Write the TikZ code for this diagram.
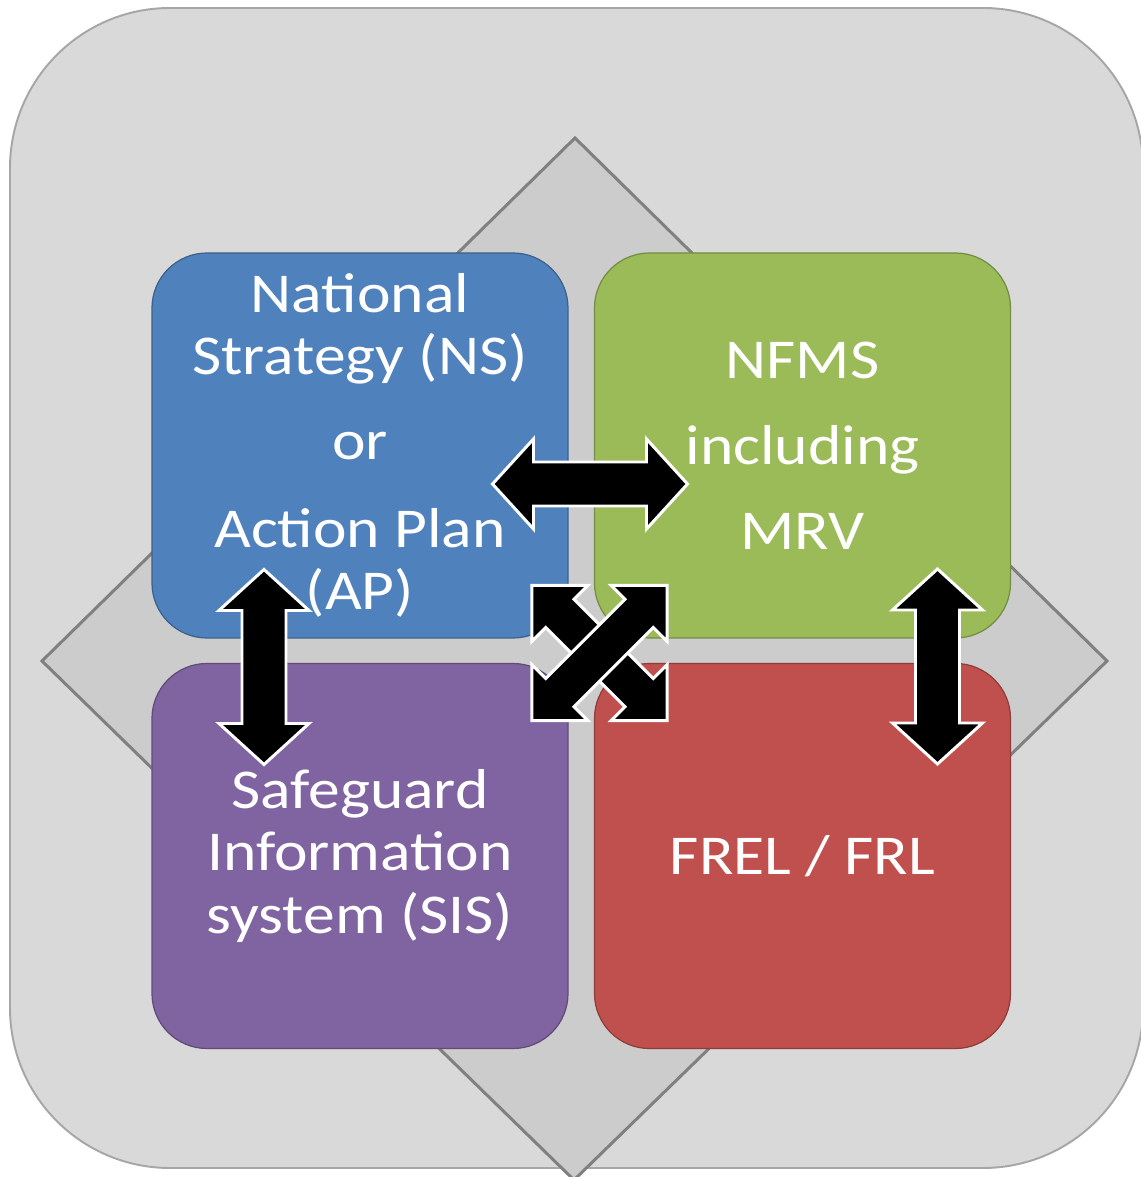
\documentclass[tikz,border=0pt]{standalone}
\usepackage{fontspec}
\setmainfont{Carlito}[FakeStretch=1.13]
\usetikzlibrary{calc}
\definecolor{fondcolor}{RGB}{217,217,217}
\definecolor{fondborder}{RGB}{166,166,166}
\definecolor{losangecolor}{RGB}{204,204,204}
\definecolor{losangeborder}{RGB}{128,128,128}
\definecolor{nscolor}{RGB}{79,129,189}
\definecolor{nfmscolor}{RGB}{155,187,89}
\definecolor{siscolor}{RGB}{128,100,162}
\definecolor{frelcolor}{RGB}{192,80,77}
\tikzset{
    bloc/.style={rectangle, rounded corners=1.1cm, minimum width=8.32cm, minimum height=7.7cm, line width=0.7pt, text=white, align=center, font=\fontsize{32}{35.3}\selectfont},
    fleche/.style={fill=black, draw=white, line width=1.7pt, line join=miter},
    % double fleche pleine : demi-longueur, demi-largeur tete, demi-largeur corps, longueur tete
    pics/flecheblock/.style n args={4}{code={
        \draw[fleche] (-#1,0) -- ({-#1+#4},#2) -- ({-#1+#4},#3) -- ({#1-#4},#3) -- ({#1-#4},#2) -- (#1,0)
            -- ({#1-#4},-#2) -- ({#1-#4},-#3) -- ({-#1+#4},-#3) -- ({-#1+#4},-#2) -- cycle;
    }},
}

\begin{document}
\begin{tikzpicture}
    \useasboundingbox (0,0) rectangle (22.82,23.54);

    % Fond
    \draw[fill=fondcolor, draw=fondborder, line width=1.1pt, rounded corners=3.2cm] (0.2,0.18) rectangle (22.86,23.38);

    % Losange
    \draw[fill=losangecolor, draw=losangeborder, line width=1.7pt] (11.5,20.78) -- (22.14,10.32) -- (11.48,-0.06) -- (0.84,10.32) -- cycle;

    % === Les quatre blocs ===
    \node[bloc, fill=nscolor, draw=nscolor!75!black] (ns) at (7.2,14.63) {National\\Strategy (NS)\\[0.46cm]or\\[0.52cm]Action Plan\\(AP)};
    \node[bloc, fill=nfmscolor, draw=nfmscolor!75!black] (nfms) at (16.05,14.63) {NFMS\\[0.48cm]including\\[0.46cm]MRV};
    \node[bloc, fill=siscolor, draw=siscolor!75!black] (sis) at (7.2,6.42) {Safeguard\\Information\\system (SIS)};
    \node[bloc, fill=frelcolor, draw=frelcolor!75!black] (frel) at (16.05,6.42) {FREL / FRL};

    % Flèches doubles
    \pic (fh) at (11.8,13.86) {flecheblock={1.95}{0.9}{0.44}{0.82}};
    \pic[rotate=90] (fg) at (5.28,10.2) {flecheblock={1.95}{0.9}{0.44}{0.82}};
    \pic[rotate=90] (fd) at (18.75,10.21) {flecheblock={1.95}{0.9}{0.44}{0.82}};

    % Croix au centre
    \pic[rotate=-45] (fx1) at (11.99,10.48) {flecheblock={1.91}{0.79}{0.4}{0.79}};
    \pic[rotate=45] (fx2) at (11.99,10.48) {flecheblock={1.91}{0.79}{0.4}{0.79}};
\end{tikzpicture}
\end{document}
